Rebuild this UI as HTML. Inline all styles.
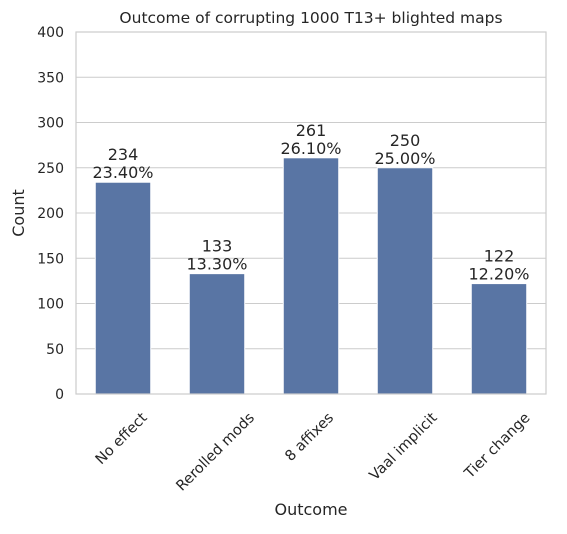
<!DOCTYPE html>
<html><head><meta charset="utf-8"><style>
body{margin:0;background:#fff;}
svg text{font-family:"DejaVu Sans","Liberation Sans",sans-serif;fill:#262626;}
</style></head><body>
<svg id="chart" width="567" height="529">
<text x="311" y="23" font-size="15.5" text-anchor="middle">Outcome of corrupting 1000 T13+ blighted maps</text>
<g id="grid"></g><g id="bars"></g><g id="labels"></g>
<rect x="76" y="32" width="470" height="362" fill="none" stroke="#cccccc" stroke-width="1.2"/>
<text x="311" y="515" font-size="16" text-anchor="middle">Outcome</text>
<text transform="translate(24,213) rotate(-90)" font-size="16" text-anchor="middle">Count</text>
</svg>
<script>
const categories=["No effect","Rerolled mods","8 affixes","Vaal implicit","Tier change"];
const counts=[234,133,261,250,122];
const yTicks=[0,50,100,150,200,250,300,350,400];
const total=1000;
const L=76,R=546,T=32,B=394,yMax=400;
const NS="http://www.w3.org/2000/svg";
const y=v=>B-(v/yMax)*(B-T);
const slot=(R-L)/categories.length;
const xc=i=>L+slot*(i+0.5);
function mk(tag,attrs,parent){const e=document.createElementNS(NS,tag);for(const k in attrs)e.setAttribute(k,attrs[k]);document.getElementById(parent).appendChild(e);return e;}
yTicks.forEach(t=>{
  const l=mk('line',{x1:L,x2:R,y1:y(t),y2:y(t),stroke:'#cccccc','stroke-width':1},'grid');
  
  
  const tx=mk('text',{x:L-12,y:y(t)+5,'font-size':14,'text-anchor':'end'},'grid');
  tx.textContent=t;
  
  
});
const bw=slot*0.59;
counts.forEach((c,i)=>{
  const r=mk('rect',{x:xc(i)-bw/2,y:y(c),width:bw,height:B-y(c),fill:'#5975a4',stroke:'#fff','stroke-width':1},'bars');
  
  
  const t1=mk('text',{x:xc(i),y:y(c)-22,'font-size':16,'text-anchor':'middle'},'labels');
  t1.textContent=c;
  
  
  const t2=mk('text',{x:xc(i),y:y(c)-4,'font-size':16,'text-anchor':'middle'},'labels');
  t2.textContent=(c/total*100).toFixed(2)+'%';
  
  
  const xt=mk('text',{'font-size':14.5,'text-anchor':'middle'},'labels');
  xt.textContent=categories[i];
  
  
  const len=xt.getComputedTextLength();
  const cy=410+len*0.7071/2+5;
  xt.setAttribute('transform','translate('+(xc(i)-2)+','+cy+') rotate(-45)');
  xt.setAttribute('y',5);
});
</script>
</body></html>
